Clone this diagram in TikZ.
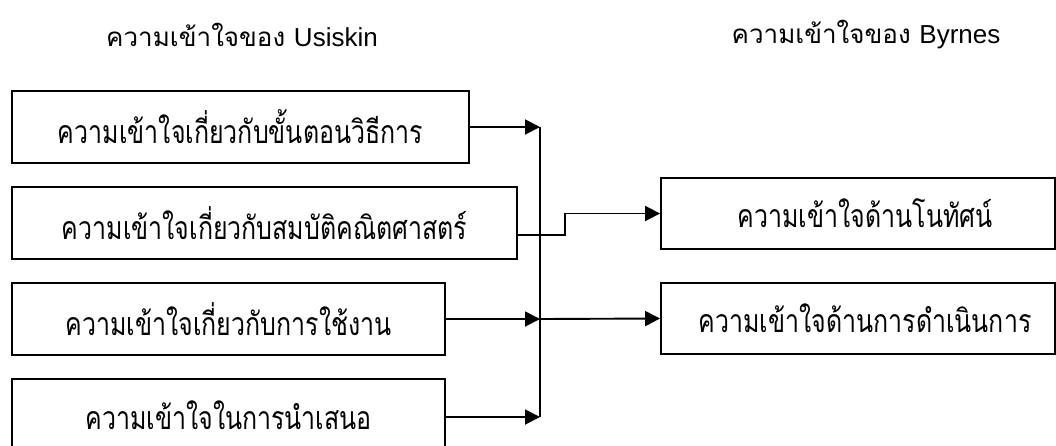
\documentclass[tikz,border=0pt]{standalone}
\usepackage{fontspec}
\usetikzlibrary{arrows.meta}
\newfontfamily\thaibox[Script=Thai,FakeStretch=0.78]{Loma}
\newfontfamily\thaihead[Script=Thai]{Loma}
\newfontfamily\latinhead{Liberation Sans}
\begin{document}
\begin{tikzpicture}[x=1pt,y=-1pt,
  box/.style={draw, line width=1.9pt, minimum height=72pt, inner sep=0pt, font=\thaibox\fontsize{32}{36}\selectfont},
  line/.style={line width=1.9pt},
  arr/.style={line width=1.9pt, -{Triangle[length=15pt,width=15pt]}},
  head/.style={font=\thaihead\fontsize{26}{30}\selectfont}]
\path[use as bounding box, clip] (0,0) rectangle (1056,445);
\fill[white] (0,0) rectangle (1056,445);
\node[head] (h1) at (242,35) {ความเข้าใจของ {\latinhead Usiskin}};
\node[head] (h2) at (866,35) {ความเข้าใจของ {\latinhead Byrnes}};
\node[box, minimum width=457pt] (u1) at (240.5,127) {ความเข้าใจเกี่ยวกับขั้นตอนวิธีการ};
\node[box, minimum width=505pt] (u2) at (264.5,223) {ความเข้าใจเกี่ยวกับสมบัติคณิตศาสตร์};
\node[box, minimum width=433pt] (u3) at (228.5,319) {ความเข้าใจเกี่ยวกับการใช้งาน};
\node[box, minimum width=433pt] (u4) at (228.5,415) {ความเข้าใจในการนำเสนอ};
\node[box, minimum width=394pt, minimum height=71pt] (b1) at (858,213.5) {\hspace*{14pt}ความเข้าใจด้านโนทัศน์};
\node[box, minimum width=394pt, minimum height=71pt] (b2) at (858,318.5) {\hspace*{14pt}ความเข้าใจด้านการดำเนินการ};
\coordinate (j1) at (540,127);
\coordinate (j3) at (540,319);
\coordinate (j4) at (540,417);
\coordinate (k2) at (565,235);
\draw[line] (j1) -- (j4);
\draw[arr] (u1.east) -- (j1);
\draw[arr] (u3.east) -- (j3);
\draw[arr] (u4.east |- j4) -- (j4);
\draw[arr] ([yshift=-12pt]u2.east) -- (k2) |- (b1.west);
\draw[arr] (j3) -- (b2.west);
\end{tikzpicture}
\end{document}
